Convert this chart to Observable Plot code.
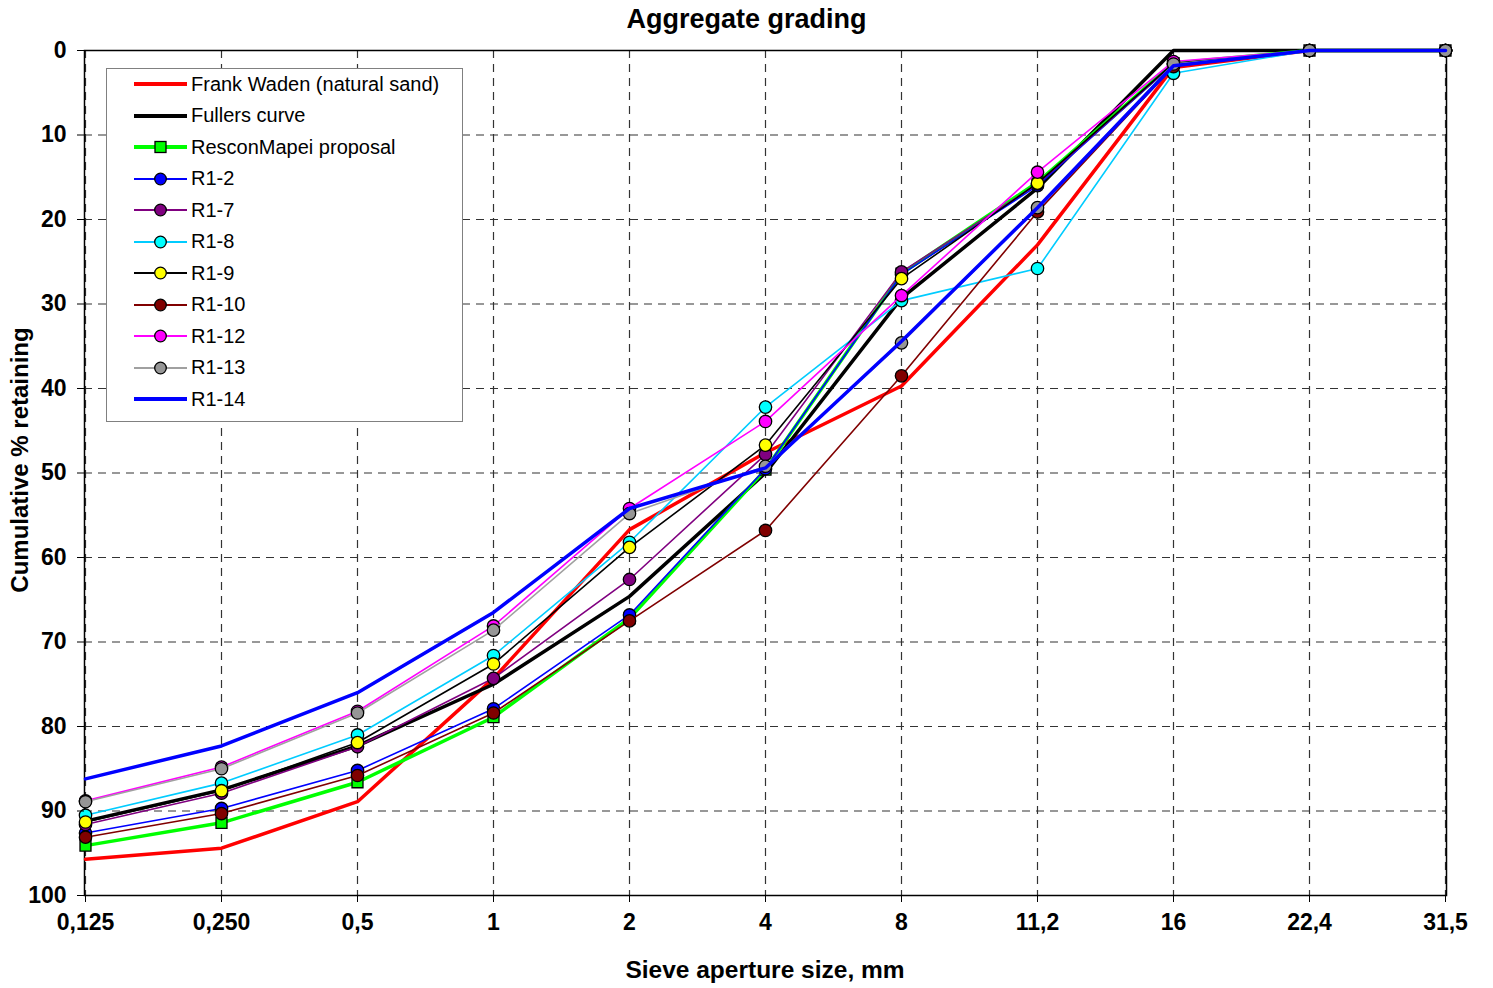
<!DOCTYPE html>
<html><head><meta charset="utf-8">
<script src="https://cdn.jsdelivr.net/npm/d3@7"></script>
<script src="https://cdn.jsdelivr.net/npm/@observablehq/plot@0.6"></script>
<style>
html,body{margin:0;padding:0;background:#fff;overflow:hidden;}
#wrap{position:relative;width:1493px;height:988px;font-family:"Liberation Sans",Arial,sans-serif;color:#000;}
#title{position:absolute;left:0;width:1493px;top:3px;text-align:center;font-weight:bold;font-size:27px;line-height:32px;}
#xlabel{position:absolute;left:84px;width:1362px;top:956px;text-align:center;font-weight:bold;font-size:24.5px;line-height:28px;}
#ylabel{position:absolute;left:-280px;width:600px;top:446px;text-align:center;font-weight:bold;font-size:24px;line-height:28px;transform:rotate(-90deg);}
#legend{position:absolute;left:106px;top:68px;width:357px;height:354px;border:1px solid #808080;background:#fff;box-sizing:border-box;}
.lrow{position:absolute;left:0;height:24px;display:flex;align-items:center;font-size:20px;}
.lrow svg{margin-left:27px;margin-right:4px;}
</style></head><body>
<div id="wrap"><div id="chart"></div><div id="title">Aggregate grading</div><div id="xlabel">Sieve aperture size, mm</div><div id="ylabel">Cumulative % retaining</div><div id="legend"></div></div>
<script>
// Sieve aperture sizes (category labels on x)
const sieveSizes = ["0,125","0,250","0,5","1","2","4","8","11,2","16","22,4","31,5"];
const yTicks = [0,10,20,30,40,50,60,70,80,90,100];
const seriesNames = ["Frank Waden (natural sand)","Fullers curve","ResconMapei proposal","R1-2","R1-7","R1-8","R1-9","R1-10","R1-12","R1-13","R1-14"];

// Cumulative % retaining per series
const frankWaden  = [95.7, 94.4, 88.9, 74.3, 56.7, 47.6, 39.7, 23.0, 2.0, 0, 0];
const fullers     = [91.2, 87.5, 82.3, 75.0, 64.6, 50.0, 29.3, 16.3, 0, 0, 0];
const resconMapei = [94.1, 91.4, 86.6, 78.9, 67.2, 49.6, 26.4, 15.6, 1.5, 0, 0];
const r1_2        = [92.6, 89.7, 85.2, 77.9, 66.8, 49.5, 26.5, 16.0, 1.6, 0, 0];
const r1_7        = [91.6, 87.9, 82.4, 74.3, 62.6, 47.8, 26.2, 15.8, 1.6, 0, 0];
const r1_8        = [90.5, 86.7, 81.0, 71.6, 58.2, 42.2, 29.6, 25.8, 2.7, 0, 0];
const r1_9        = [91.3, 87.6, 81.9, 72.6, 58.8, 46.7, 27.0, 15.7, 1.5, 0, 0];
const r1_10       = [93.1, 90.3, 85.8, 78.4, 67.5, 56.8, 38.5, 19.1, 1.9, 0, 0];
const r1_12       = [88.8, 84.8, 78.2, 68.1, 54.2, 43.9, 29.0, 14.4, 1.3, 0, 0];
const r1_13       = [88.9, 85.0, 78.4, 68.6, 54.8, 49.2, 34.6, 18.6, 1.6, 0, 0];
const r1_14       = [86.2, 82.3, 76.0, 66.5, 54.2, 49.4, 34.4, 18.6, 1.8, 0, 0];

const seriesValues = [frankWaden, fullers, resconMapei, r1_2, r1_7, r1_8, r1_9, r1_10, r1_12, r1_13, r1_14];

// Styles (separate from data)
const styles = [
  {color:"#FF0000", width:3.5, symbol:null},
  {color:"#000000", width:3.5, symbol:null},
  {color:"#00FF00", width:3.5, symbol:"square", fill:"#00FF00"},
  {color:"#0000FF", width:1.6, symbol:"circle", fill:"#0000FF"},
  {color:"#800080", width:1.6, symbol:"circle", fill:"#800080"},
  {color:"#00CCFF", width:1.6, symbol:"circle", fill:"#00FFFF"},
  {color:"#000000", width:1.6, symbol:"circle", fill:"#FFFF00"},
  {color:"#800000", width:1.6, symbol:"circle", fill:"#800000"},
  {color:"#FF00FF", width:1.6, symbol:"circle", fill:"#FF00FF"},
  {color:"#A0A0A0", width:1.6, symbol:"circle", fill:"#969696"},
  {color:"#0000FF", width:3.5, symbol:null}
];

const rows = seriesNames.flatMap((name, k) => seriesValues[k].map((v, i) => ({series:name, size:sieveSizes[i], value:v})));

const seriesMarks = seriesNames.flatMap((name, k) => {
  const d = rows.filter(r => r.series === name);
  const s = styles[k];
  const m = [Plot.line(d, {x:"size", y:"value", stroke:s.color, strokeWidth:s.width, strokeLinejoin:"round"})];
  if (s.symbol) m.push(Plot.dot(d, {x:"size", y:"value", symbol:s.symbol, fill:s.fill, stroke:"#000", strokeWidth:1.3, r:6.2}));
  return m;
});

const chart = Plot.plot({
  width:1493, height:988,
  marginTop:50, marginBottom:93, marginLeft:84, marginRight:47,
  style:{fontFamily:"'Liberation Sans', Arial, sans-serif", background:"#fff", color:"#000"},
  x:{type:"point", domain:sieveSizes, padding:0},
  y:{domain:[0,100], reverse:true},
  marks:[
    Plot.gridX({stroke:"#333", strokeOpacity:1, strokeWidth:1.2, strokeDasharray:"8,6"}),
    Plot.gridY(yTicks, {stroke:"#333", strokeOpacity:1, strokeWidth:1.2, strokeDasharray:"8,6"}),
    Plot.frame({stroke:"#000", strokeWidth:1.5}),
    ...seriesMarks,
    Plot.axisX({tickSize:7, tickPadding:11, fontSize:23, fontWeight:"bold", label:null}),
    Plot.axisY(yTicks, {tickSize:7, tickPadding:11, fontSize:23, fontWeight:"bold", label:null})
  ]
});
document.getElementById("chart").appendChild(chart);

// Legend
const legend = d3.select("#legend");
seriesNames.forEach((name, k) => {
  const s = styles[k];
  const row = legend.append("div").attr("class","lrow").style("top", (3 + k*31.5) + "px");
  const svg = row.append("svg").attr("width",53).attr("height",24);
  svg.append("line").attr("x1",0).attr("x2",53).attr("y1",12).attr("y2",12)
    .attr("stroke",s.color).attr("stroke-width", s.width > 2 ? 4 : 2);
  if (s.symbol === "circle") svg.append("circle").attr("cx",26.5).attr("cy",12).attr("r",5.8).attr("fill",s.fill).attr("stroke","#000").attr("stroke-width",1.3);
  if (s.symbol === "square") svg.append("rect").attr("x",21).attr("y",6.5).attr("width",11).attr("height",11).attr("fill",s.fill).attr("stroke","#000").attr("stroke-width",1.3);
  row.append("span").text(name);
});
</script>
</body></html>
